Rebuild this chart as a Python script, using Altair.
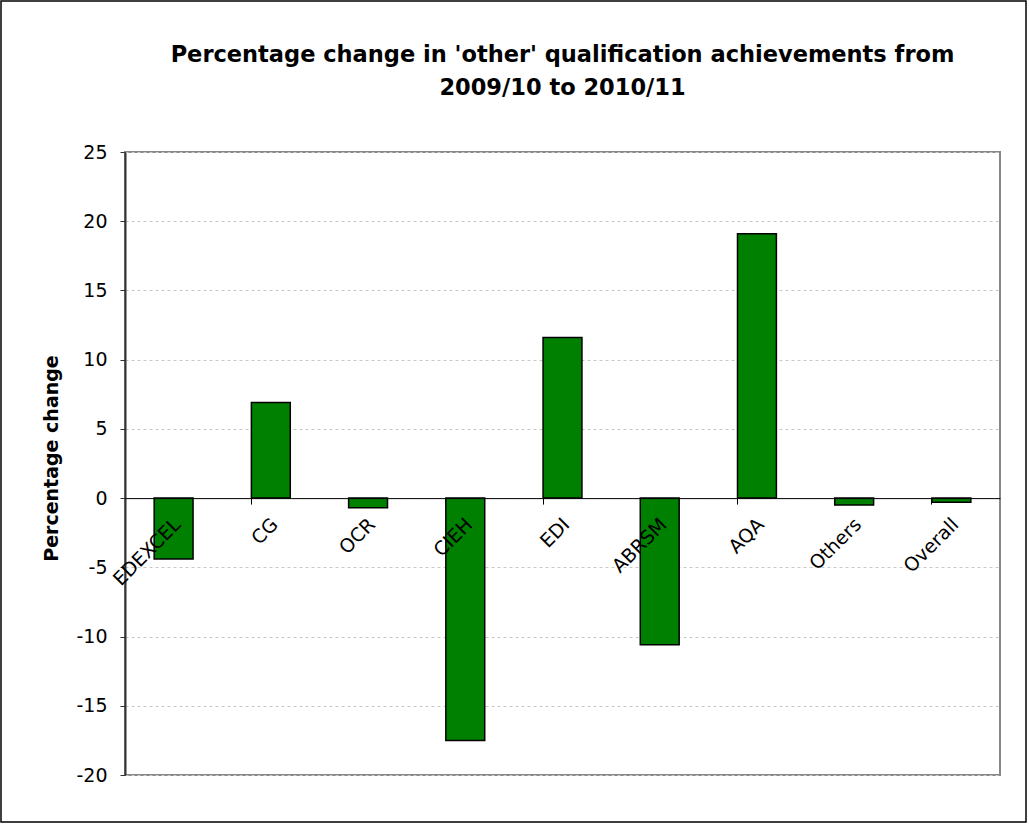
import altair as alt
import pandas as pd

categories = ["EDEXCEL", "CG", "OCR", "CIEH", "EDI", "ABRSM", "AQA", "Others", "Overall"]
values = [-4.4, 6.9, -0.7, -17.5, 11.6, -10.6, 19.1, -0.5, -0.3]
y_ticks = [-20, -15, -10, -5, 0, 5, 10, 15, 20, 25]
title_lines = ["Percentage change in 'other' qualification achievements from", "2009/10 to 2010/11"]
y_title = "Percentage change"

df = pd.DataFrame({"Provider": categories, "Change": values})

W, H = 875, 623
ymin, ymax = -20, 25
zero_offset = -(H * (0 - ymin) / (ymax - ymin))
FONT = "DejaVu Sans"

xscale = alt.Scale(domain=categories, paddingInner=0.6, paddingOuter=0.3)
yscale = alt.Scale(domain=[ymin, ymax], nice=False)

y_enc = alt.Y(
    "Change:Q",
    scale=yscale,
    axis=alt.Axis(
        values=y_ticks,
        labelExpr="'' + datum.value",
        title=y_title,
        titleFont=FONT,
        titleFontSize=19,
        titleFontWeight="bold",
        titleColor="black",
        titlePadding=14,
        titleY=306,
        labelFont=FONT,
        labelFontSize=19,
        labelColor="black",
        labelPadding=13,
        tickSize=5,
        tickColor="#333333",
        domainColor="#333333",
        domainWidth=2,
        grid=True,
        gridColor="#c8c8c8",
        gridDash=[3, 3],
        gridWidth=1,
    ),
)

bars = alt.Chart(df).mark_bar(color="#008000", stroke="black", strokeWidth=1.5).encode(
    x=alt.X(
        "Provider:N",
        sort=categories,
        scale=xscale,
        axis=alt.Axis(
            title=None,
            labelAngle=-45,
            labelAlign="right",
            labelBaseline="middle",
            ticks=True,
            tickSize=6,
            tickColor="black",
            bandPosition=0,
            labelOffset=4,
            domain=True,
            domainColor="black",
            domainWidth=1,
            grid=False,
            offset=zero_offset,
            labelFontSize=19,
            labelFont=FONT,
            labelColor="black",
            labelPadding=17,
            zindex=1,
        ),
    ),
    y=y_enc,
)

frame = alt.Chart(pd.DataFrame({"f": [0]})).mark_rect(
    fill=None, stroke="black", strokeWidth=1.5
).encode(
    x=alt.value(-124), x2=alt.value(901), y=alt.value(-151), y2=alt.value(670)
)

chart = (
    alt.layer(bars, frame)
    .properties(
        width=W,
        height=H,
        autosize=alt.AutoSizeParams(type="none"),
        padding={"left": 125, "top": 152, "right": 29, "bottom": 50},
        background="white",
        title=alt.TitleParams(
            title_lines,
            font=FONT,
            fontSize=22.5,
            fontWeight="bold",
            color="black",
            anchor="middle",
            lineHeight=33,
            offset=52,
            dy=151,
        ),
    )
    .configure_view(stroke="#888888", strokeWidth=2)
)

chart.save("out.html", embed_options={"renderer": "svg", "actions": False})
